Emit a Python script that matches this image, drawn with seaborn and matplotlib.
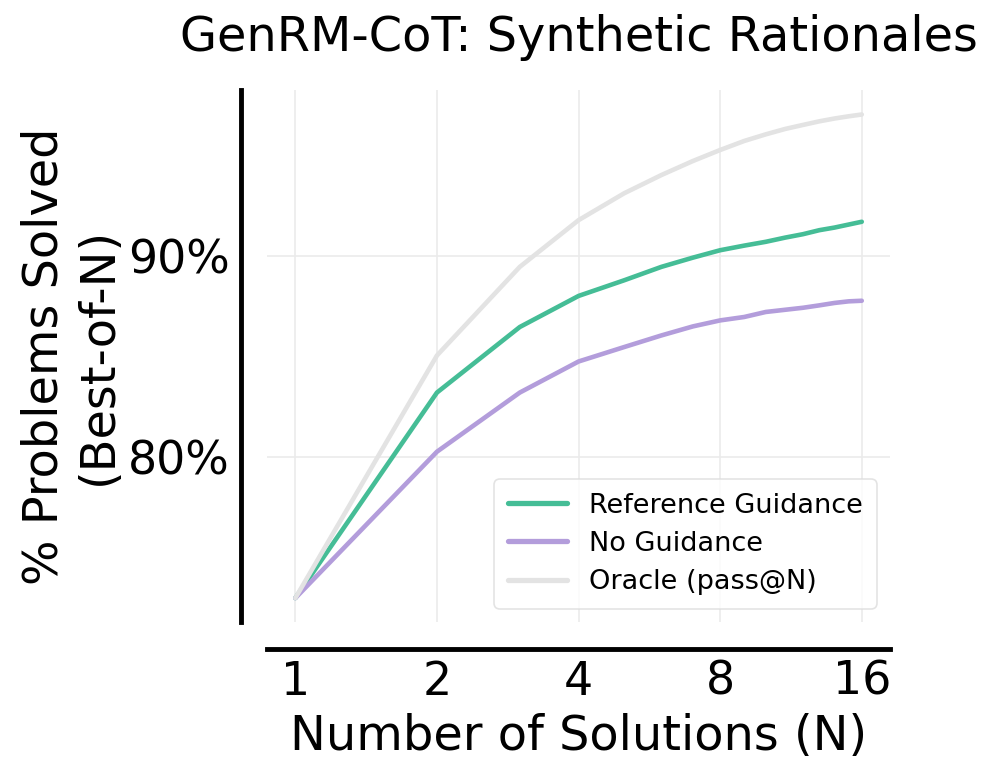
import numpy as np
import pandas as pd
import matplotlib
matplotlib.use("Agg")
import matplotlib.pyplot as plt
import seaborn as sns
from matplotlib.ticker import FixedLocator, FuncFormatter, NullLocator

N = list(range(1, 17))
reference_guidance = [72.95, 83.2, 86.47, 88.02, 88.8, 89.47, 89.93, 90.3,
                      90.53, 90.72, 90.93, 91.1, 91.3, 91.43, 91.58, 91.72]
no_guidance = [72.95, 80.25, 83.2, 84.75, 85.47, 86.05, 86.5, 86.8,
               86.97, 87.22, 87.33, 87.43, 87.55, 87.67, 87.75, 87.78]
oracle = [72.95, 85.05, 89.47, 91.8, 93.14, 94.05, 94.75, 95.3,
          95.75, 96.08, 96.35, 96.55, 96.73, 96.87, 96.98, 97.07]
series_names = ["Reference Guidance", "No Guidance", "Oracle (pass@N)"]
colors = ["#45BD96", "#B39DDB", "#E3E3E3"]
x_ticks = [1, 2, 4, 8, 16]
y_ticks = [80, 90]

df = pd.DataFrame({
    "N": N * 3,
    "value": reference_guidance + no_guidance + oracle,
    "series": [series_names[0]] * 16 + [series_names[1]] * 16 + [series_names[2]] * 16,
})

sns.set_style("whitegrid")
plt.rcParams["font.family"] = ["DejaVu Sans"]
plt.rcParams["text.color"] = "black"
plt.rcParams["axes.labelcolor"] = "black"

fig = plt.figure(figsize=(9.89, 7.72), dpi=100)
ax = fig.add_axes([0.270, 0.194, 0.630, 0.689])

sns.lineplot(data=df, x="N", y="value", hue="series", hue_order=series_names,
             palette=colors, linewidth=3.3, ax=ax, sort=False)

ax.set_xscale("log", base=2)
ax.xaxis.set_major_locator(FixedLocator(x_ticks))
ax.xaxis.set_minor_locator(NullLocator())
ax.xaxis.set_major_formatter(FuncFormatter(lambda v, p: f"{int(round(v))}"))
ax.yaxis.set_major_locator(FixedLocator(y_ticks))
ax.yaxis.set_major_formatter(FuncFormatter(lambda v, p: f"{int(round(v))}%"))

ax.grid(True, color="#EBEBEB", linewidth=1.2)
ax.tick_params(axis="both", length=0, labelsize=33, pad=8, colors="black")

ax.set_xlabel("Number of Solutions (N)", fontsize=34.5, color="black", labelpad=6)
ax.set_ylabel("% Problems Solved\n(Best-of-N)", fontsize=34.5, color="black")
ax.set_title("GenRM-CoT: Synthetic Rationales", fontsize=34.5, pad=28, color="black")

sns.despine(ax=ax, offset=19)
for s in ["left", "bottom"]:
    ax.spines[s].set_color("black")
    ax.spines[s].set_linewidth(3.5)

leg = ax.legend(loc="lower right", fontsize=19.5, frameon=True, handlelength=2.2,
                borderpad=0.5, labelspacing=0.45)
leg.get_frame().set_edgecolor("#DDDDDD")
leg.get_frame().set_linewidth(1.2)
for t in leg.get_texts():
    t.set_color("black")
for line in leg.get_lines():
    line.set_linewidth(3.8)

fig.savefig("out.png", dpi=100)
